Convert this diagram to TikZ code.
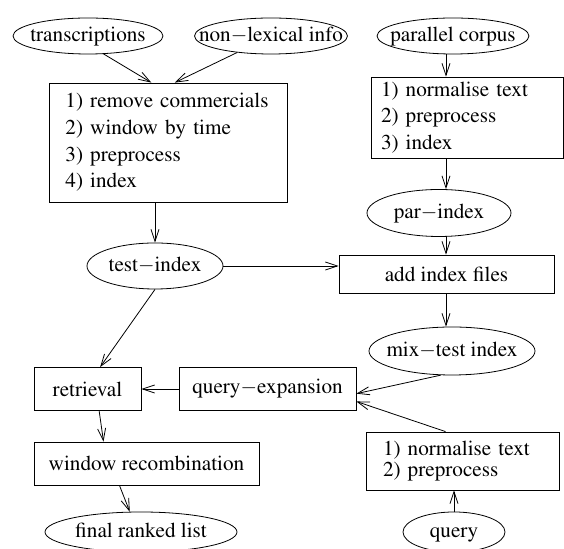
\documentclass[tikz,border=0pt]{standalone}
\usepackage[T1]{fontenc}
\usepackage{mathptmx}
\usetikzlibrary{shapes.geometric,arrows.meta}

\newcommand{\olab}[1]{\makebox[0pt]{#1}}

\tikzset{
  oval/.style={draw, ellipse, inner sep=0pt, text height=7.4pt, text depth=2.3pt,
    font=\fontsize{10.6}{13.35}\selectfont},
  blk/.style={draw, rectangle, inner ysep=0pt, font=\fontsize{10.6}{13.35}\selectfont},
  arr/.style={-{Straight Barb[length=6pt,width=4pt]}}
}

\begin{document}
\begin{tikzpicture}[x=0.5pt,y=-0.5pt]
                \useasboundingbox (0,0) rectangle (564,549);

                % inputs
                \node[oval, minimum width=75pt, minimum height=18pt] (trans) at (88,36) {\olab{transcriptions}};
                \node[oval, minimum width=76.5pt, minimum height=18pt] (nonlex) at (271,36) {\olab{non$-$lexical info}};
                \node[oval, minimum width=76pt, minimum height=18pt] (parcorp) at (453,36) {\olab{parallel corpus}};

                \node[blk, text width=103pt, inner xsep=8pt, minimum height=59.5pt, align=left] (prep) at (168.5,142.5)
                    {1) remove commercials\\2) window by time\\3) preprocess\\4) index};
                \node[blk, text width=86pt, inner xsep=5pt, minimum height=40.5pt, align=left] (parprep) at (467,117.5)
                    {1) normalise text\\2) preprocess\\3) index};

                \node[oval, minimum width=72pt, minimum height=23.5pt] (parind) at (439,213) {\olab{par$-$index}};
                \node[oval, minimum width=68pt, minimum height=23pt] (testind) at (155,266) {\olab{test$-$index}};
                \node[blk, minimum width=107.5pt, minimum height=19pt] (addidx) at (446.5,274) {add index files};
                \node[oval, minimum width=83pt, minimum height=24pt] (mixind) at (452,351) {\olab{mix$-$test index}};

                \node[blk, minimum width=53.5pt, minimum height=21.5pt] (retr) at (87.5,389) {retrieval};
                \node[blk, minimum width=88.5pt, minimum height=21.5pt] (qexp) at (267.5,389) {query$-$expansion};
                \node[blk, minimum width=112.5pt, minimum height=21.5pt] (wrecomb) at (146.5,463.5) {window recombination};
                \node[blk, text width=79.5pt, inner xsep=8.5pt, minimum height=29pt, align=left,
                    font=\fontsize{10.6}{10.85}\selectfont] (qprep) at (462.5,461)
                    {1) normalise text\\2) preprocess};

                \node[oval, minimum width=96pt, minimum height=20pt] (ranked) at (141,532) {\olab{final ranked list}};
                \node[oval, minimum width=51pt, minimum height=20pt] (query) at (454,532) {\olab{query}};

                \coordinate (rcol) at (446,0);

                \draw[arr] (trans.-49) -- (prep.106);
                \draw[arr] (nonlex.-154) -- (prep.84);
                \draw[arr] (prep.south -| testind.north) -- (testind.north);
                \draw[arr] (rcol |- parcorp.south) -- (rcol |- parprep.north);
                \draw[arr] (rcol |- parprep.south) -- (rcol |- parind.north);
                \draw[arr] (rcol |- parind.south) -- (rcol |- addidx.north);
                \draw[arr] (testind.east) -- (testind.east -| addidx.west);
                \draw[arr] (rcol |- addidx.south) -- (rcol |- mixind.north);
                \draw[arr] (testind.south) -- (retr.60);
                \draw[arr] (mixind.-115) -- (qexp.-3);
                \draw[arr] (qprep.120) -- (qexp.-8);
                \draw[arr] (qexp) -- (retr);
                \draw[arr] (retr.-62) -- (wrecomb.153);
                \draw[arr] (wrecomb.-141) -- (ranked.119);
                \draw[arr] (query) -- (query |- qprep.south);
            \end{tikzpicture}
\end{document}
